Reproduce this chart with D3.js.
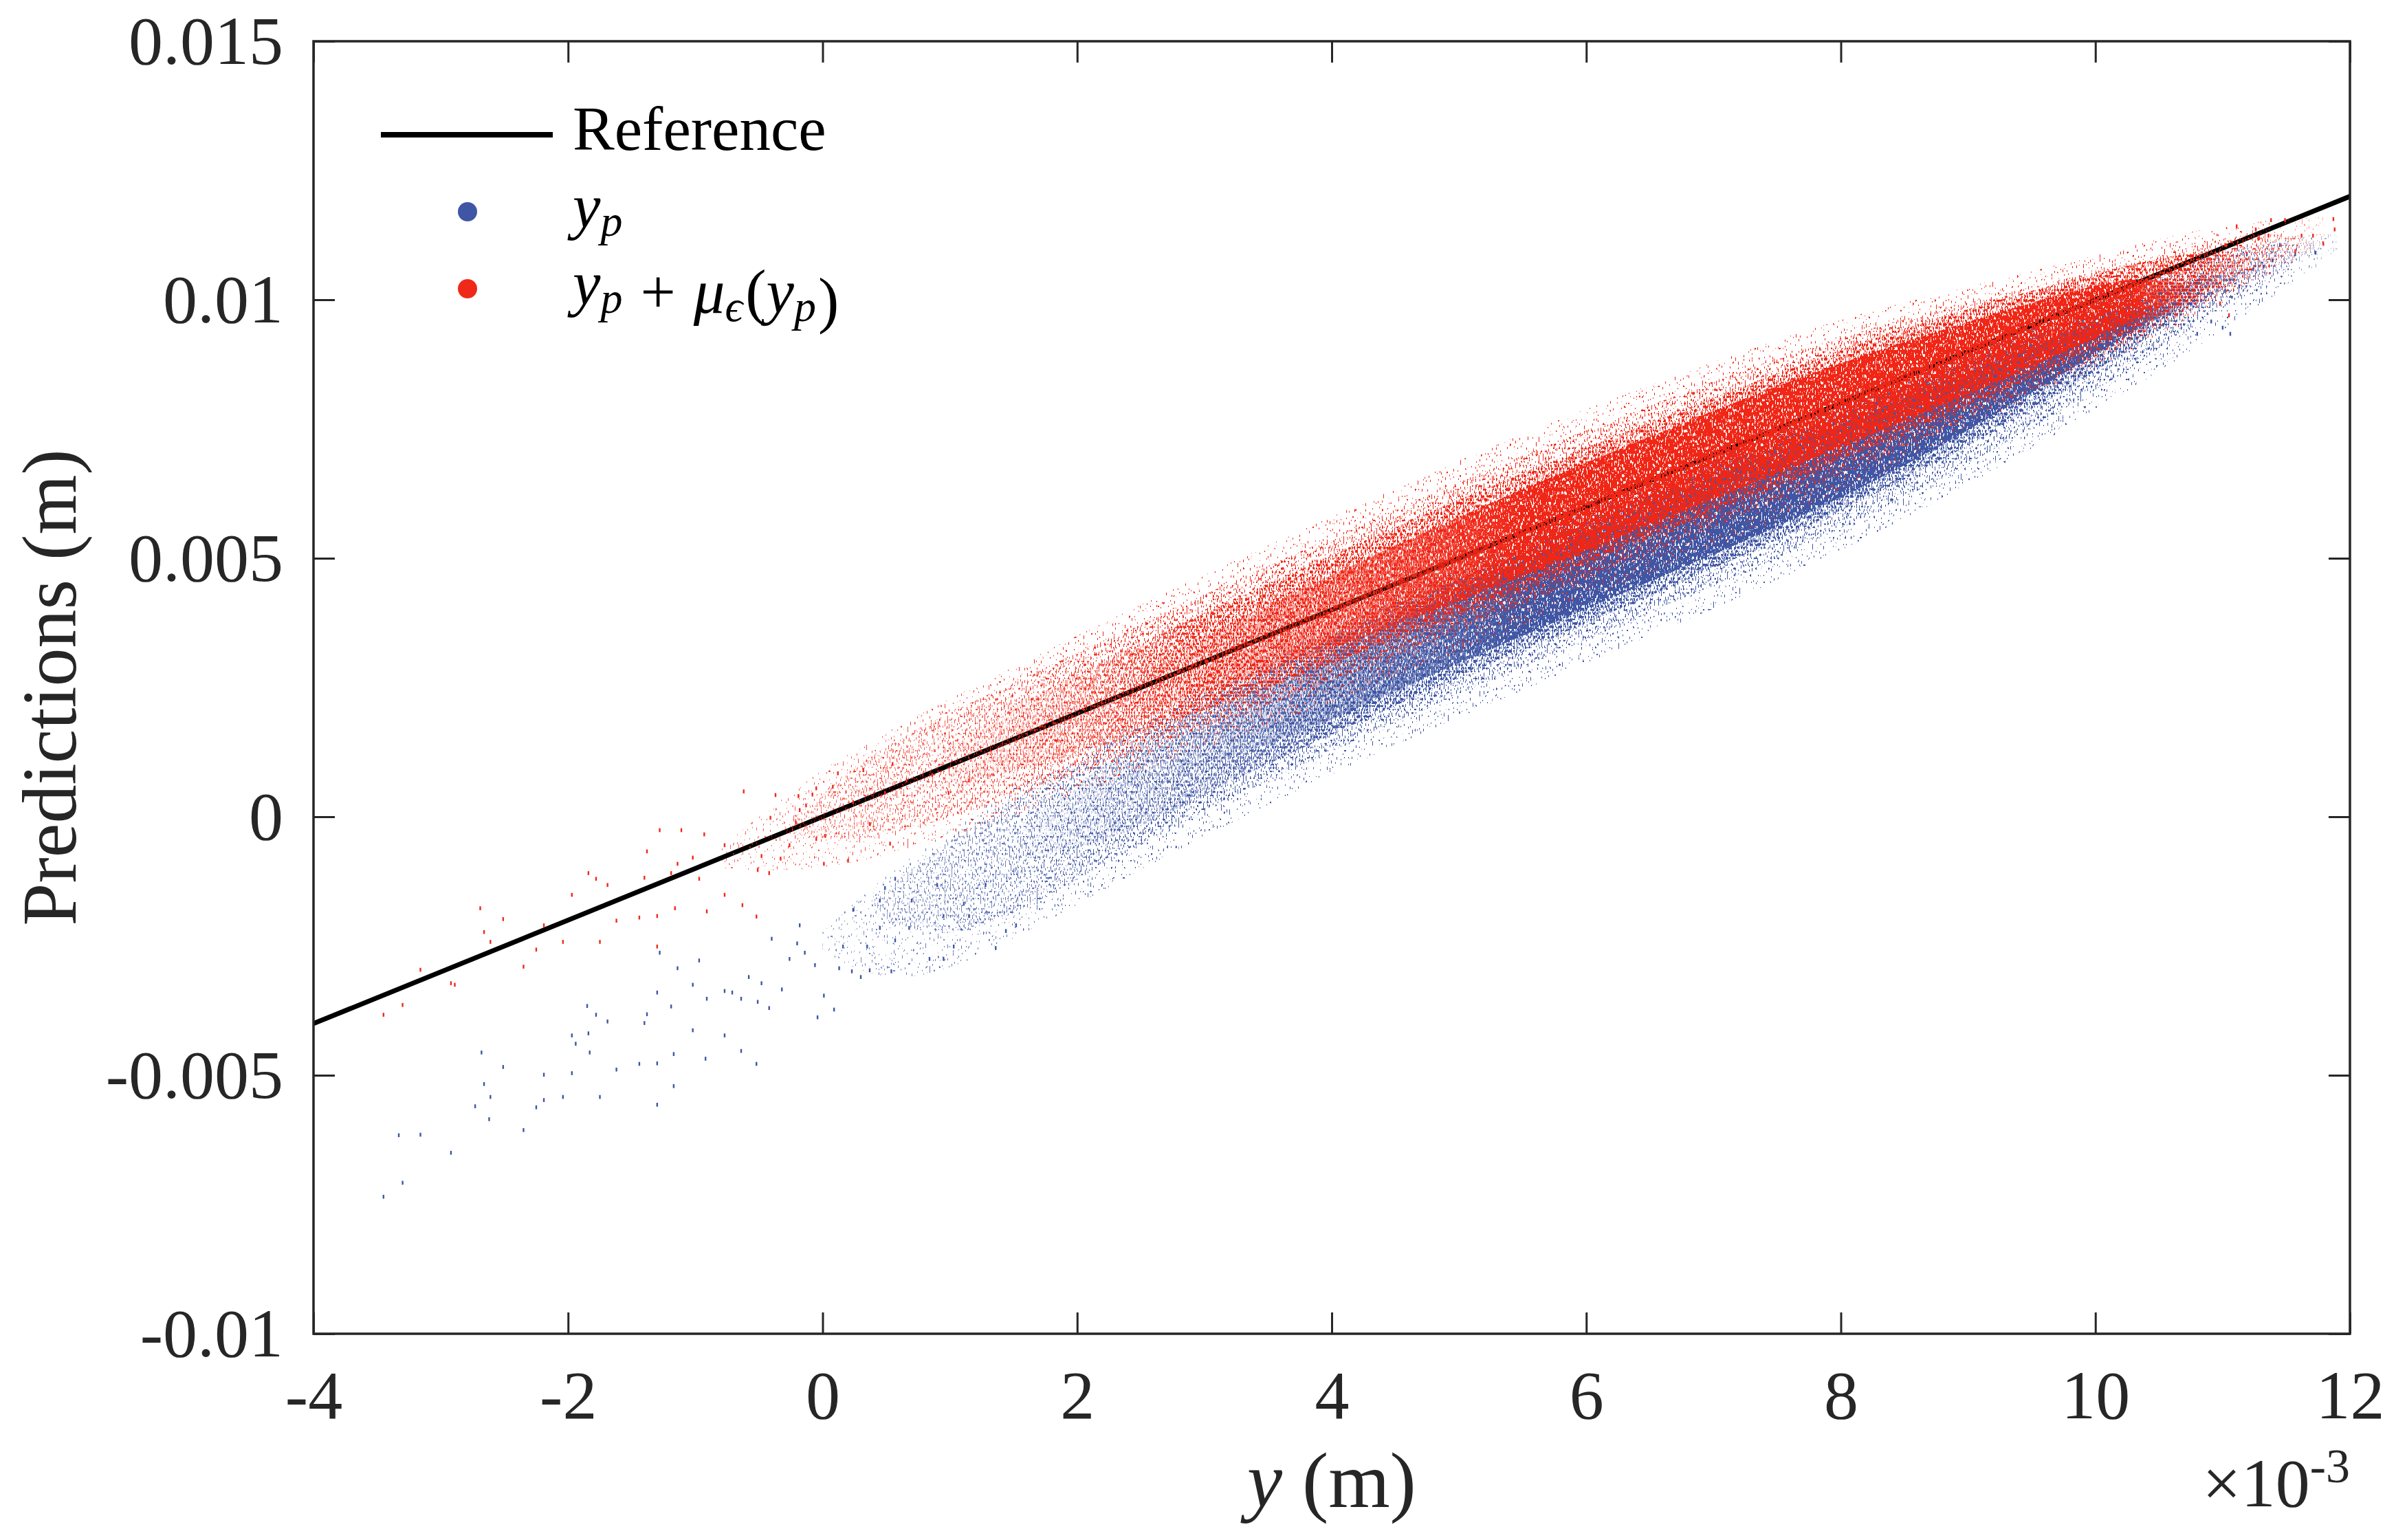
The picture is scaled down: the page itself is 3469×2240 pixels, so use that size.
<!DOCTYPE html>
<html>
<head>
<meta charset="utf-8">
<script src="https://cdn.jsdelivr.net/npm/d3@7"></script>
<style>
body { margin: 0; background: #fff; }
text { font-family: "Liberation Serif", "DejaVu Serif", serif; }
</style>
</head>
<body>
<div id="chart"></div>
<script>
// all values in units of 1e-3 m
const xTicks = [-4, -2, 0, 2, 4, 6, 8, 10, 12];
const yTicks = [-10, -5, 0, 5, 10, 15];
const referenceLine = [[-4, -4], [12, 12]];

// point cloud density bands: [x, lower y, upper y]
const blueFringe = [[0.0,-2.6,-2.2],[0.6,-3.4,-0.9],[1.5,-2.4,0.6],[2.5,-1.0,1.95],[3.5,0.25,3.15],[4.5,1.4,4.3],[5.5,2.45,5.4],[6.5,3.5,6.5],[7.5,4.55,7.6],[8.5,5.75,8.6],[9.5,7.1,9.6],[10.5,8.6,10.6],[11.3,9.9,11.2],[11.9,10.9,11.3]];
const blueHalo = [[0.4,-1.9,-1.6],[1.0,-2.5,-0.4],[1.8,-1.5,0.8],[2.5,-0.5,1.8],[3.5,0.7,3.0],[4.5,1.85,4.2],[5.5,2.9,5.3],[6.5,3.95,6.4],[7.5,5.0,7.5],[8.5,6.15,8.5],[9.5,7.5,9.5],[10.5,9.0,10.5],[11.2,10.2,11.1],[11.8,11.0,11.1]];
const blueMid = [[1.4,-0.8,-0.4],[2.2,-0.6,1.0],[3.0,0.45,2.2],[4.0,1.6,3.45],[5.0,2.7,4.6],[6.0,3.75,5.7],[7.0,4.8,6.75],[8.0,5.9,7.8],[9.0,7.15,8.8],[10.0,8.6,9.75],[10.8,9.9,10.45],[11.2,10.5,10.6]];
const blueCore = [[2.8,0.9,1.6],[3.6,1.4,2.7],[4.5,2.45,3.8],[5.5,3.5,4.95],[6.5,4.55,6.05],[7.5,5.6,7.1],[8.5,6.75,8.1],[9.5,8.2,9.1],[10.3,9.4,9.85],[10.7,9.9,10.0]];
const redFringe = [[-0.8,-1.0,-0.6],[0.0,-1.1,1.0],[1.0,-0.4,2.3],[2.0,0.45,3.5],[3.0,1.3,4.7],[4.0,2.2,5.8],[5.0,3.2,6.9],[6.0,4.2,7.9],[7.0,5.2,8.8],[8.0,6.3,9.65],[9.0,7.5,10.25],[10.0,8.7,10.85],[11.0,9.9,11.5],[11.8,11.1,11.6]];
const redHalo = [[-0.3,-0.3,-0.2],[0.3,-0.6,1.2],[1.5,0.4,2.6],[2.5,1.25,3.75],[3.5,2.15,4.85],[4.5,3.1,5.95],[5.5,4.1,7.0],[6.5,5.1,7.95],[7.5,6.1,8.9],[8.5,7.15,9.65],[9.5,8.25,10.25],[10.5,9.45,10.85],[11.2,10.4,11.35],[11.7,11.0,11.2]];
const redMid = [[0.8,0.5,1.1],[1.4,0.8,2.0],[2.0,1.2,2.75],[3.0,2.05,3.95],[4.0,2.95,5.05],[5.0,3.9,6.15],[6.0,4.9,7.15],[7.0,5.9,8.1],[8.0,6.9,9.05],[9.0,7.95,9.85],[10.0,9.05,10.5],[10.8,10.05,11.0],[11.2,10.6,10.8]];
const redCore = [[2.4,1.9,2.8],[3.5,2.8,4.1],[4.5,3.7,5.25],[5.5,4.65,6.35],[6.5,5.65,7.35],[7.5,6.65,8.35],[8.5,7.65,9.2],[9.5,8.7,9.95],[10.3,9.6,10.5],[10.7,10.1,10.3]];

// single points visible in the sparse tails
const bluePoints = [[-3.45,-7.35],[-3.30,-7.08],[-3.33,-6.16],[-3.16,-6.15],[-2.92,-6.50],[-2.73,-5.60],[-2.66,-5.17],[-2.61,-5.42],[-2.62,-5.85],[-2.51,-4.84],[-2.68,-4.56],[-2.35,-6.06],[-2.25,-5.62],[-2.19,-5.48],[-2.19,-4.99],[-2.04,-5.42],[-1.97,-4.23],[-1.97,-4.96],[-1.94,-4.39],[-1.84,-4.19],[-1.83,-4.56],[-1.75,-5.42],[-1.85,-3.66],[-1.78,-3.83],[-1.69,-3.96],[-1.62,-4.89],[-1.44,-4.78],[-1.38,-3.82],[-1.40,-3.99],[-1.30,-3.40],[-1.30,-4.77],[-1.30,-5.57],[-1.17,-4.59],[-1.17,-5.21],[-1.28,-2.63],[-1.19,-3.67],[-1.14,-2.93],[-1.02,-3.25],[-1.02,-4.13],[-0.97,-2.78],[-0.92,-4.68],[-0.91,-3.52],[-0.77,-4.23],[-0.77,-3.37],[-0.64,-4.53],[-0.52,-4.78],[-0.64,-3.52],[-0.71,-3.40],[-0.58,-3.10],[-0.51,-3.58],[-0.42,-3.70],[-0.48,-3.22],[-0.32,-3.34],[-0.40,-2.36],[-0.26,-2.75],[-0.20,-2.45],[-0.14,-2.63],[-0.18,-2.10],[0.01,-3.46],[-0.04,-3.88],[0.09,-3.73],[-0.06,-2.87],[0.13,-2.93],[0.23,-2.99],[0.30,-3.10],[0.37,-2.97],[0.54,-2.99],[0.16,-2.51],[0.35,-2.51],[0.45,-2.15],[0.57,-2.39],[0.68,-2.15],[0.84,-2.75],[0.95,-2.75],[1.03,-2.51],[0.24,-1.80],[0.45,-1.62],[0.70,-1.62],[0.95,-1.92],[1.15,-1.92],[1.36,-2.54],[1.44,-2.21],[1.52,-2.10],[0.57,-1.20],[0.90,-1.32],[1.11,-1.68],[1.28,-1.32],[0.49,-1.38],[11.73,10.91],[11.57,10.88],[11.45,11.06],[11.39,10.76],[11.32,10.64],[11.24,10.59],[11.13,10.26],[11.06,9.34],[11.00,9.46],[10.91,9.58],[10.80,9.34],[11.19,10.88],[11.02,10.17]];
const redPoints = [[-3.45,-3.83],[-3.30,-3.64],[-3.16,-2.96],[-2.92,-3.22],[-2.89,-3.25],[-2.69,-1.77],[-2.66,-2.23],[-2.61,-2.42],[-2.51,-1.98],[-2.35,-2.90],[-2.25,-2.57],[-2.19,-2.10],[-2.04,-2.42],[-1.97,-1.51],[-1.84,-1.09],[-1.78,-1.20],[-1.75,-2.42],[-1.69,-1.32],[-1.62,-2.01],[-1.44,-1.95],[-1.40,-1.18],[-1.38,-0.67],[-1.30,-1.92],[-1.30,-2.51],[-1.28,-0.26],[-1.19,-1.09],[-1.16,-1.77],[-1.14,-0.91],[-1.11,-0.26],[-1.02,-0.79],[-0.97,-1.20],[-0.93,-0.34],[-0.91,-1.83],[-0.77,-0.55],[-0.77,-1.51],[-0.63,-1.71],[-0.62,0.49],[-0.52,-1.93],[-0.51,-1.03],[-0.48,-0.76],[-0.42,-1.09],[-0.41,-0.02],[-0.37,0.42],[-0.33,-0.81],[-0.26,-0.55],[-0.19,0.40],[-0.18,0.13],[-0.08,0.43],[-0.05,0.55],[0.01,-0.91],[0.02,-0.37],[0.12,0.84],[0.20,-0.85],[0.32,0.90],[0.53,-0.52],[0.55,1.02],[-0.21,-0.11],[-0.13,0.22],[-0.05,-0.43],[0.08,0.58],[0.24,0.28],[0.37,-0.14],[0.49,0.46],[0.66,0.70],[0.86,0.81],[0.99,0.46],[1.15,0.70],[11.87,11.56],[11.88,11.36],[11.79,11.09],[11.71,11.24],[11.62,11.24],[11.57,10.94],[11.49,11.54],[11.38,11.54],[11.28,11.18],[11.26,11.36],[11.11,11.42],[11.05,9.70],[10.98,9.93],[11.02,11.06],[11.36,11.24]];

const blueColor = '#3f56a4',
redColor = '#f02819',
axisColor = '#262626';

const width = 3469,
height = 2240,
margin = { top: 60, left: 456 },
plotW = 2962,
plotH = 1880;

const svg = d3.select('#chart').
append('svg').
attr('width', width).
attr('height', height).
style('display', 'block');

svg.append('rect').attr('width', width).attr('height', height).attr('fill', '#fff');

const defs = svg.append('defs');
defs.append('clipPath').attr('id', 'plotclip').
append('rect').attr('width', plotW).attr('height', plotH);

const x = d3.scaleLinear().domain([-4, 12]).range([0, plotW]);
const y = d3.scaleLinear().domain([-10, 15]).range([plotH, 0]);

// speckle texture so the bands read like a cloud of tiny markers
function speckle(id, seed, threshold) {
  const f = defs.append('filter').
  attr('id', id).
  attr('filterUnits', 'userSpaceOnUse').
  attr('x', 0).attr('y', 0).
  attr('width', plotW).attr('height', plotH);
  f.append('feTurbulence').
  attr('type', 'fractalNoise').
  attr('baseFrequency', '0.5 0.2').
  attr('numOctaves', 1).
  attr('seed', seed).
  attr('result', 'noise');
  f.append('feComponentTransfer').attr('in', 'noise').attr('result', 'mask').
  append('feFuncA').attr('type', 'linear').
  attr('slope', 40).attr('intercept', -40 * threshold);
  f.append('feComposite').
  attr('in', 'SourceGraphic').attr('in2', 'mask').attr('operator', 'in');
}

// soft fade at both ends of a band so the density ramps up gradually
function fadeMask(id, data, floor) {
  const n = data.length,
  a = x(data[0][0]),
  b = x(data[n - 1][0]),
  s = b - a,
  grad = defs.append('linearGradient').
  attr('id', id + '-grad').
  attr('gradientUnits', 'userSpaceOnUse').
  attr('x1', a).attr('x2', b).attr('y1', 0).attr('y2', 0);
  grad.append('stop').attr('offset', 0).attr('stop-color', floor);
  grad.append('stop').attr('offset', (x(data[Math.min(3, n - 1)][0]) - a) / s).attr('stop-color', '#fff');
  grad.append('stop').attr('offset', (x(data[n - 2][0]) - a) / s).attr('stop-color', '#fff');
  grad.append('stop').attr('offset', 1).attr('stop-color', '#555');
  defs.append('mask').attr('id', id + '-mask').
  attr('maskUnits', 'userSpaceOnUse').
  attr('x', 0).attr('y', 0).attr('width', plotW).attr('height', plotH).
  append('rect').attr('width', plotW).attr('height', plotH).
  attr('fill', `url(#${id}-grad)`);
}

const g = svg.append('g').
attr('transform', `translate(${margin.left},${margin.top})`);

const area = d3.area().
x(d => x(d[0])).
y0(d => y(d[1])).
y1(d => y(d[2])).
curve(d3.curveBasis);

const plot = g.append('g').attr('clip-path', 'url(#plotclip)');

function band(data, color, id, seed, threshold, floor) {
  speckle(id + '-sp', seed, threshold);
  fadeMask(id, data, floor);
  plot.append('g').attr('mask', `url(#${id}-mask)`).
  append('g').attr('filter', `url(#${id}-sp)`).
  append('path').
  attr('d', area(data)).
  attr('fill', color);
}

function dots(data, color) {
  plot.append('g').selectAll('rect').
  data(data).
  enter().
  append('rect').
  attr('x', d => x(d[0]) - 1.2).
  attr('y', d => y(d[1]) - 2.8).
  attr('width', 2.4).
  attr('height', 5.6).
  attr('fill', color);
}

band(blueFringe, blueColor, 'bf', 2, 0.68, '#aaa');
band(blueHalo, blueColor, 'bh', 3, 0.61, '#888');
band(blueMid, blueColor, 'bm', 7, 0.53, '#000');
band(blueCore, blueColor, 'bc', 11, 0.43, '#000');
dots(bluePoints, blueColor);

plot.append('path').
attr('d', d3.line().x(d => x(d[0])).y(d => y(d[1]))(referenceLine)).
attr('stroke', '#000').
attr('stroke-width', 7).
attr('fill', 'none');

band(redFringe, redColor, 'rf', 4, 0.68, '#aaa');
band(redHalo, redColor, 'rh', 5, 0.61, '#888');
band(redMid, redColor, 'rm', 9, 0.53, '#000');
band(redCore, redColor, 'rc', 13, 0.43, '#000');
dots(redPoints, redColor);

// axes, ticks pointing inwards on all four sides
const tick = 31;
function styleAxis(sel, size) {
  sel.select('.domain').remove();
  sel.selectAll('line').attr('stroke', axisColor).attr('stroke-width', 3);
  sel.selectAll('text').attr('fill', axisColor).style('font-size', size + 'px');
}

g.append('g').
attr('transform', `translate(0,${plotH})`).
call(d3.axisBottom(x).tickValues(xTicks).tickSizeInner(-tick).tickSizeOuter(0).tickPadding(52).
tickFormat(d => String(d))).
call(s => styleAxis(s, 100));
g.append('g').
call(d3.axisTop(x).tickValues(xTicks).tickSizeInner(-tick).tickSizeOuter(0).tickFormat('')).
call(s => styleAxis(s, 100));
g.append('g').
call(d3.axisLeft(y).tickValues(yTicks).tickSizeInner(-tick).tickSizeOuter(0).tickPadding(44).
tickFormat(d => String(d / 1000))).
call(s => styleAxis(s, 100));
g.append('g').
attr('transform', `translate(${plotW},0)`).
call(d3.axisRight(y).tickValues(yTicks).tickSizeInner(-tick).tickSizeOuter(0).tickFormat('')).
call(s => styleAxis(s, 100));

g.append('rect').
attr('width', plotW).
attr('height', plotH).
attr('fill', 'none').
attr('stroke', axisColor).
attr('stroke-width', 3.5);

// axis labels
const xl = g.append('text').
attr('x', plotW / 2).
attr('y', 2192 - margin.top).
attr('text-anchor', 'middle').
attr('fill', axisColor).
style('font-size', '115px');
xl.append('tspan').attr('font-style', 'italic').text('y');
xl.append('tspan').text(' (m)');

g.append('text').
attr('transform', `translate(${110 - margin.left},${plotH / 2}) rotate(-90)`).
attr('text-anchor', 'middle').
attr('fill', axisColor).
style('font-size', '112px').
text('Predictions (m)');

const exp = g.append('text').
attr('x', plotW).
attr('y', 2191 - margin.top).
attr('text-anchor', 'end').
attr('fill', axisColor).
style('font-size', '100px');
exp.append('tspan').text('×10');
exp.append('tspan').attr('dy', -35).style('font-size', '70px').text('-3');

// legend
const legend = svg.append('g');
legend.append('line').
attr('x1', 554).attr('x2', 804).
attr('y1', 196).attr('y2', 196).
attr('stroke', '#000').attr('stroke-width', 8);
legend.append('text').attr('x', 833).attr('y', 218).
style('font-size', '91px').attr('fill', '#000').text('Reference');

legend.append('circle').attr('cx', 680).attr('cy', 308).attr('r', 14).attr('fill', blueColor);
legend.append('circle').attr('cx', 680).attr('cy', 420).attr('r', 14).attr('fill', redColor);

function yp(t, sub) {
  t.append('tspan').attr('font-style', 'italic').text('y');
  t.append('tspan').attr('font-style', 'italic').attr('dy', 12).style('font-size', '64px').text(sub);
  t.append('tspan').attr('dy', -12).text('');
}
const l1 = legend.append('text').attr('x', 833).attr('y', 331).
style('font-size', '91px').attr('fill', '#000');
yp(l1, 'p');

const l2 = legend.append('text').attr('x', 833).attr('y', 443).
style('font-size', '91px').attr('fill', '#000');
yp(l2, 'p');
l2.append('tspan').attr('dx', 26).text('+');
l2.append('tspan').attr('dx', 26).attr('font-style', 'italic').text('μ');
l2.append('tspan').attr('font-style', 'italic').attr('dy', 12).style('font-size', '64px').text('ϵ');
l2.append('tspan').attr('dy', -12).attr('dx', 4).text('(');
yp(l2, 'p');
l2.append('tspan').attr('dx', 3).text(')');
</script>
</body>
</html>
